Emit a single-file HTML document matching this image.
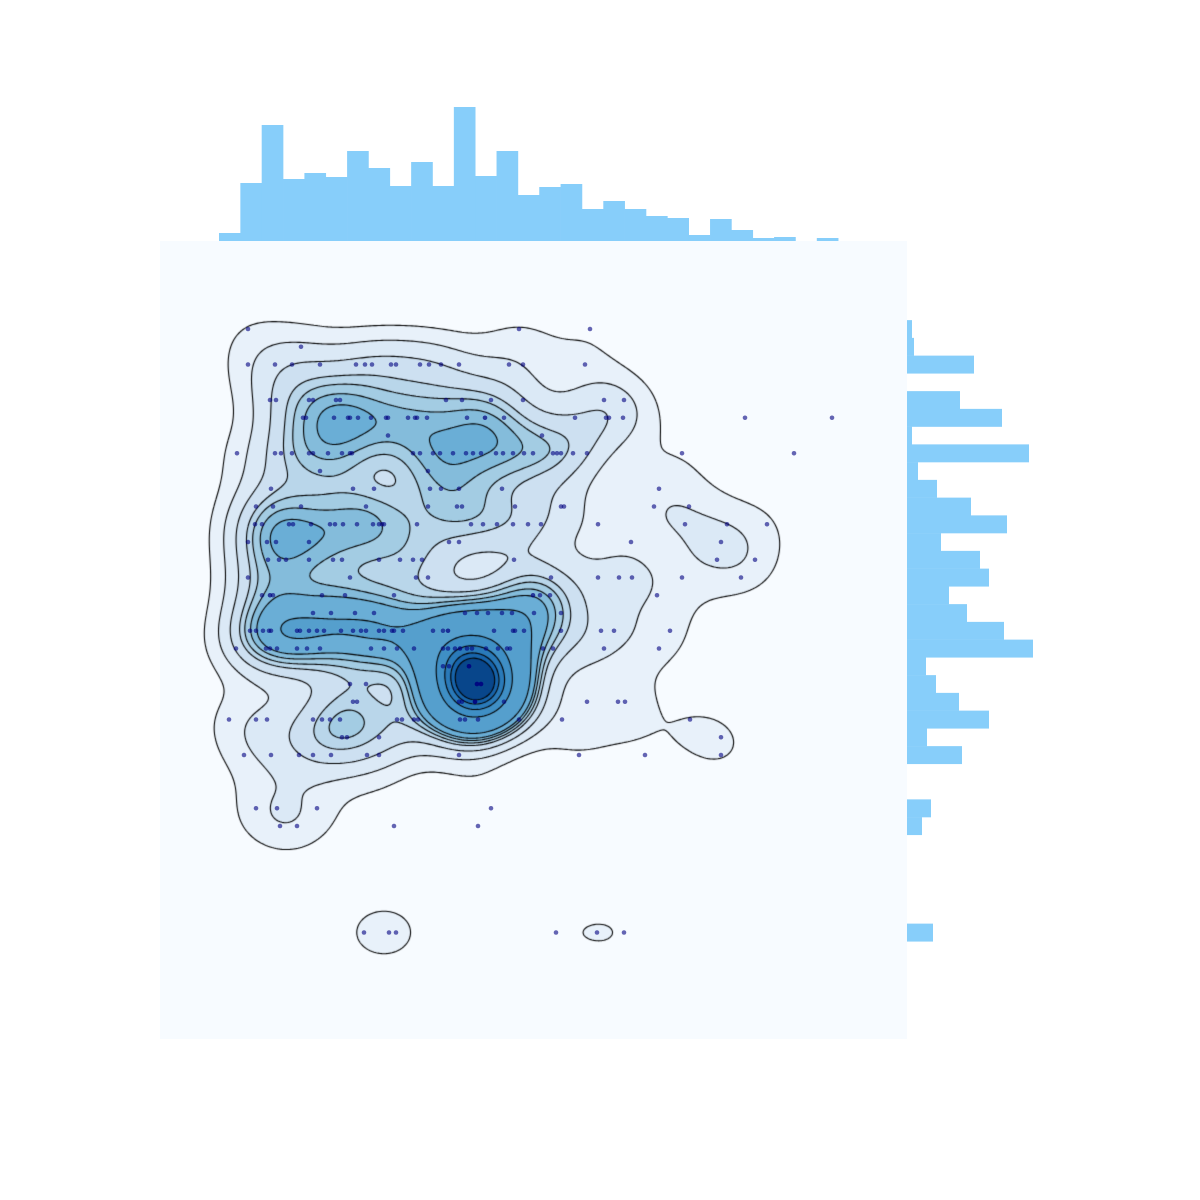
<!DOCTYPE html>
<html><head><meta charset="utf-8">
<style>
html,body{margin:0;padding:0;background:#fff;}
#wrap{position:relative;width:1200px;height:1200px;font-family:"Liberation Sans",sans-serif;}
#bgax{position:absolute;left:160px;top:241px;width:747px;height:798px;background:#f7fbff;}
#kde{position:absolute;left:160px;top:241px;}
#svg{position:absolute;left:0;top:0;}
</style></head>
<body>
<div id="wrap">
<div id="bgax"></div>
<canvas id="kde" width="747" height="798"></canvas>
<svg id="svg" width="1200" height="1200"></svg>
</div>
<script>
// ---- data (x in data units 0..747, y = integer row value) ----
const rowsY = [40,39,38,36,35,34,33,32,31,30,29,28,27,26,25,24,23,22,21,20,19,18,17,16,13,12,6];
const rowsX = [
 [88,359,430],
 [141],
 [88,115,132,160,196,205,212,231,236,260,269,281,299,349,363,425],
 [110,116,149,153,176,180,286,302,331,363,444,464],
 [143,146,174,188,190,198,211,226,228,248,255,257,267,307,344,415,446,449,463,585,672],
 [228,382],
 [77,115,121,132,149,153,168,182,190,192,253,260,273,280,293,306,313,321,336,343,353,364,373,393,397,401,413,427,522,634],
 [160,268],
 [111,193,214,270,281,299,342,499],
 [96,113,141,206,268,297,302,355,401,404,494,529],
 [95,102,129,133,151,170,175,183,197,213,219,222,224,257,311,323,337,353,368,381,438,525,567,607],
 [88,107,116,149,289,299,471,561],
 [108,119,126,149,173,182,219,240,253,262,354,557,595],
 [88,190,256,268,391,438,459,472,522,581],
 [102,113,162,185,234,380,390,497],
 [153,171,195,214,305,317,328,342,352,374,401],
 [90,96,103,109,111,137,140,149,157,164,181,193,201,206,219,224,232,234,243,273,283,334,353,355,364,401,441,454,510],
 [76,106,110,117,137,147,160,211,224,237,254,283,288,295,307,312,326,338,347,350,383,393,444,499],
 [283,289,309],
 [190,206,317,321],
 [193,197,299,302,315,344,427,458,465],
 [69,96,107,153,162,170,180,237,242,254,258,300,305,318,359,402,530],
 [182,187,219,561],
 [84,111,139,153,171,207,219,299,419,485,561],
 [96,117,157,331],
 [120,137,234,318],
 [204,229,236,396,437,464]
];
// extra overlap weights for dense spots
const denseX = [317,321,309,315,300,288,110,373,325];
const denseY = [20,20,21,19,22,23,25,25,35];
const denseW = [14,14,6,6,3,3,2,3,3];
// top histogram
const topBinStart = 59, topBinWidth = 21.35;
const topCounts = [8,58,116,62,68,64,90,73,55,79,55,134,65,90,46,54,57,32,40,32,25,23,6,22,11,3,4,0,3];
// right histogram (rows)
const rightRows = [40,39,38,37,36,35,34,33,32,31,30,29,28,27,26,25,24,23,22,21,20,19,18,17,16,15,14,13,12,6];
const rightCounts = [5,7,67,0,53,95,5,122,11,30,64,100,34,73,82,42,60,97,126,19,29,52,82,20,55,0,0,24,15,26];

// ---- axes ----
const PX0=160, PY0=241, PW=747, PH=798;
const xS = v => PX0 + v;
const yS = r => 1039 - r*17.75;
const NS="http://www.w3.org/2000/svg";
const svg=document.getElementById('svg');
function mk(tag,attrs,parent){const e=document.createElementNS(NS,tag);for(const k in attrs)e.setAttribute(k,attrs[k]);(parent||svg).appendChild(e);return e;}

// top histogram
const gTop=mk('g',{});


topCounts.forEach((c,i)=>{
  if(!c) return;
  const x0=xS(topBinStart+i*topBinWidth);
  const r=mk('rect',{x:x0,y:241-c,width:topBinWidth+0.3,height:c,fill:'#87cefa'},gTop);
  
  
});
// right histogram
const gR=mk('g',{});


rightRows.forEach((rw,i)=>{
  const c=rightCounts[i]; if(!c) return;
  const r=mk('rect',{x:907,y:yS(rw+0.5),width:c,height:17.95,fill:'#87cefa'},gR);
  
  
});

// ---- KDE ----
const pts=[];
rowsY.forEach((ry,i)=>rowsX[i].forEach(x=>pts.push([xS(x)-PX0,yS(ry)-PY0,1])));
denseX.forEach((x,i)=>pts.push([xS(x)-PX0,yS(denseY[i])-PY0,denseW[i]]));
const G=2, NX=Math.ceil(PW/G)+1, NY=Math.ceil(PH/G)+1;
const hx=31, hy=27;
const dens=new Float64Array(NX*NY);
const kx=new Float64Array(NX), ky=new Float64Array(NY);
for(const p of pts){
  for(let i=0;i<NX;i++){const d=(i*G-p[0])/hx;kx[i]=Math.exp(-0.5*d*d);}
  for(let j=0;j<NY;j++){const d=(j*G-p[1])/hy;ky[j]=p[2]*Math.exp(-0.5*d*d);}
  for(let j=0;j<NY;j++){const kyj=ky[j];if(kyj<1e-6)continue;const o=j*NX;for(let i=0;i<NX;i++)dens[o+i]+=kx[i]*kyj;}
}
// iso-proportion levels
const sorted=Array.from(dens).sort((a,b)=>a-b);
let total=0;for(const v of sorted)total+=v;
const props=[];for(let k=0;k<9;k++)props.push(0.08+k*0.92/9);
const levels=[];let cum=0,pi=0;
for(let i=0;i<sorted.length&&pi<props.length;i++){cum+=sorted[i];while(pi<props.length&&cum/total>=props[pi]){levels.push(sorted[i]);pi++;}}
const colors=["#e8f1fa","#dbe9f6","#cde0f1","#b9d6ea","#a3cce3","#84bcdb","#6aaed6","#559fcd","#3f8fc5","#2a7ab9","#1764ab","#08468b"];
const maxD=sorted[sorted.length-1];
while(levels.length<12){const l=levels[levels.length-1];levels.push(l+(maxD-l)*0.3);}
const cv=document.getElementById('kde');const ctx=cv.getContext('2d');
for(let j=0;j<NY-1;j++)for(let i=0;i<NX-1;i++){
  const v=(dens[j*NX+i]+dens[j*NX+i+1]+dens[(j+1)*NX+i]+dens[(j+1)*NX+i+1])/4;
  let k=-1;for(let l=0;l<levels.length;l++)if(v>=levels[l])k=l;
  if(k<0)continue;
  ctx.fillStyle=colors[Math.min(k,colors.length-1)];
  ctx.fillRect(i*G,j*G,G,G);
}
// contour lines (marching squares)
ctx.strokeStyle='#000';ctx.lineWidth=1.1;ctx.beginPath();
for(const L of levels){
  for(let j=0;j<NY-1;j++)for(let i=0;i<NX-1;i++){
    const a=dens[j*NX+i],b=dens[j*NX+i+1],c=dens[(j+1)*NX+i+1],d=dens[(j+1)*NX+i];
    const idx=(a>=L?8:0)|(b>=L?4:0)|(c>=L?2:0)|(d>=L?1:0);
    if(idx===0||idx===15)continue;
    const x=i*G,y=j*G;
    const T=[x+G*(L-a)/(b-a),y], R=[x+G,y+G*(L-b)/(c-b)], B=[x+G*(L-d)/(c-d),y+G], Lf=[x,y+G*(L-a)/(d-a)];
    const segs={1:[[Lf,B]],2:[[B,R]],3:[[Lf,R]],4:[[T,R]],5:[[Lf,T],[B,R]],6:[[T,B]],7:[[Lf,T]],8:[[Lf,T]],9:[[T,B]],10:[[T,R],[Lf,B]],11:[[T,R]],12:[[Lf,R]],13:[[B,R]],14:[[Lf,B]]}[idx];
    for(const s of segs){ctx.moveTo(s[0][0],s[0][1]);ctx.lineTo(s[1][0],s[1][1]);}
  }
}
ctx.stroke();

// ---- scatter ----
const gS=mk('g',{});


rowsY.forEach((ry,i)=>rowsX[i].forEach(x=>{
  const c=mk('circle',{cx:xS(x),cy:yS(ry),r:2.3,fill:'#000080','fill-opacity':0.6},gS);
  
  
}));
denseX.forEach((x,i)=>{
  const c=mk('circle',{cx:xS(x),cy:yS(denseY[i]),r:2.3,fill:'#000080','fill-opacity':0.7},gS);
  
  
});
</script>
</body></html>
